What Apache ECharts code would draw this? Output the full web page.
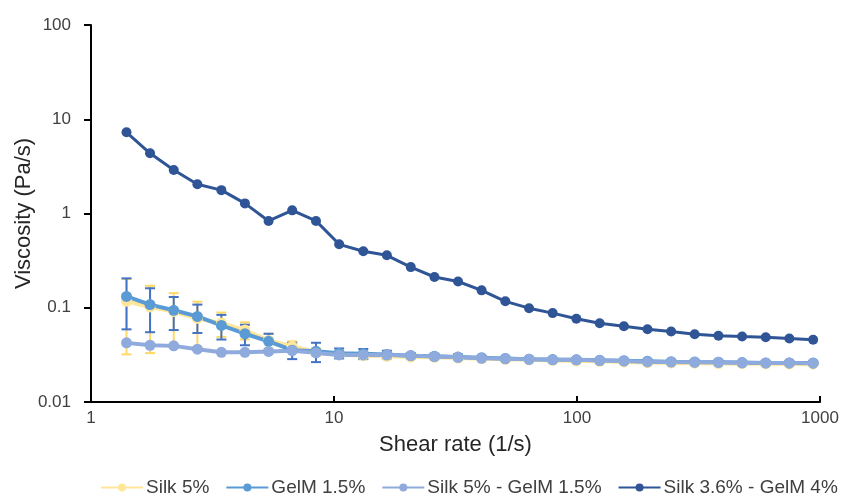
<!DOCTYPE html>
<html>
<head>
<meta charset="utf-8">
<script src="https://cdn.jsdelivr.net/npm/echarts@6/dist/echarts.min.js"></script>
<style>html,body{margin:0;padding:0;background:#fff}#c{width:849px;height:496px}</style>
</head>
<body>
<div id="c"></div>
<script>
// Shear rate (1/s)
var shearRate = [1.40, 1.75, 2.19, 2.74, 3.44, 4.30, 5.38, 6.73, 8.43, 10.5, 13.2, 16.5, 20.7, 25.9, 32.4, 40.5, 50.7, 63.5, 79.4, 99.4, 124, 156, 195, 244, 305, 382, 478, 598, 748, 937];
// Viscosity (Pa/s)
var silk5 = [0.117, 0.102, 0.091, 0.077, 0.069, 0.058, 0.045, 0.039, 0.034, 0.032, 0.031, 0.0305, 0.030, 0.0298, 0.0293, 0.0288, 0.0284, 0.028, 0.0276, 0.0273, 0.027, 0.0266, 0.0262, 0.026, 0.0258, 0.0256, 0.0255, 0.0254, 0.0253, 0.0252];
var silk5Err = [0.085, 0.069, 0.052, 0.039, 0.020, 0.012, 0.008, 0.005, 0.003, 0.002, 0.002, 0.002, 0.001, 0.001, 0.001, 0.001, 0.001, 0.001, 0.001, 0.001, 0.001, 0.001, 0.001, 0.001, 0.001, 0.001, 0.001, 0.001, 0.001, 0.001];
var gelm15 = [0.132, 0.108, 0.094, 0.081, 0.065, 0.053, 0.044, 0.0355, 0.0345, 0.033, 0.0325, 0.032, 0.031, 0.0305, 0.030, 0.0295, 0.029, 0.0285, 0.0282, 0.028, 0.0277, 0.0274, 0.0271, 0.0268, 0.0266, 0.0264, 0.0262, 0.026, 0.026, 0.026];
var gelm15Err = [0.073, 0.053, 0.036, 0.027, 0.019, 0.013, 0.009, 0.007, 0.008, 0.004, 0.004, 0.003, 0.002, 0.002, 0.002, 0.001, 0.001, 0.001, 0.001, 0.001, 0.001, 0.001, 0.001, 0.001, 0.001, 0.001, 0.001, 0.001, 0.001, 0.001];
var silk5Gelm15 = [0.0424, 0.040, 0.0394, 0.0363, 0.0337, 0.0337, 0.0344, 0.035, 0.0332, 0.0316, 0.0316, 0.0315, 0.0311, 0.0303, 0.0298, 0.0291, 0.0287, 0.0284, 0.028, 0.028, 0.0275, 0.0273, 0.0266, 0.0265, 0.0264, 0.0264, 0.026, 0.026, 0.026, 0.0258];
var silk36Gelm4 = [7.27, 4.35, 2.89, 2.04, 1.77, 1.28, 0.834, 1.08, 0.834, 0.471, 0.397, 0.36, 0.270, 0.212, 0.19, 0.153, 0.117, 0.099, 0.0877, 0.0764, 0.0686, 0.0637, 0.0592, 0.056, 0.0524, 0.0504, 0.0495, 0.0487, 0.0471, 0.0457];
var seriesNames = ['Silk 5%', 'GelM 1.5%', 'Silk 5% - GelM 1.5%', 'Silk 3.6% - GelM 4%'];

function pairs(vals) { return vals.map(function (v, i) { return [shearRate[i], v]; }); }
function errData(vals, errs) { return vals.map(function (v, i) { return [shearRate[i], v - errs[i], v + errs[i]]; }); }

function errRender(color) {
  return function (params, api) {
    var x = api.value(0);
    var lo = api.coord([x, api.value(1)]);
    var hi = api.coord([x, api.value(2)]);
    var w = 5;
    var st = { stroke: color, lineWidth: 2 };
    return {
      type: 'group',
      children: [
        { type: 'line', shape: { x1: lo[0], y1: lo[1], x2: hi[0], y2: hi[1] }, style: st },
        { type: 'line', shape: { x1: lo[0] - w, y1: lo[1], x2: lo[0] + w, y2: lo[1] }, style: st },
        { type: 'line', shape: { x1: hi[0] - w, y1: hi[1], x2: hi[0] + w, y2: hi[1] }, style: st }
      ]
    };
  };
}

var colors = ['#FFE699', '#5B9BD5', '#8FAADC', '#2F5597'];
var FONT = 'Liberation Sans';

function lineSeries(name, data, color, width, size) {
  return {
    name: name, type: 'line', data: pairs(data), symbol: 'circle', symbolSize: size,
    lineStyle: { color: color, width: width }, itemStyle: { color: color },
    emphasis: { disabled: true }, animation: false
  };
}

var chart = echarts.init(document.getElementById('c'), null, { renderer: 'canvas' });
chart.setOption({
  animation: false,
  grid: { left: 91, right: 29, top: 25, bottom: 94, containLabel: false, outerBoundsMode: 'none' },
  legend: {
    data: seriesNames,
    top: 478, left: 100, padding: 0,
    itemWidth: 42, itemHeight: 10, itemGap: 16,
    textStyle: { fontFamily: FONT, fontSize: 19, color: '#404040', padding: [0, 0, 0, -2] }
  },
  xAxis: {
    type: 'log', logBase: 10, min: 1, max: 1000,
    name: 'Shear rate (1/s)', nameLocation: 'middle', nameGap: 32, nameMoveOverlap: false,
    nameTextStyle: { fontFamily: FONT, fontSize: 22, color: '#262626' },
    axisLine: { lineStyle: { color: '#000', width: 2 } },
    axisTick: { inside: true, length: 6, lineStyle: { color: '#000', width: 2 } },
    minorTick: { show: false },
    splitLine: { show: false },
    axisLabel: { fontFamily: FONT, fontSize: 17, color: '#404040', margin: 8,
      formatter: function (v) { return String(+v.toPrecision(3)); } }
  },
  yAxis: {
    type: 'log', logBase: 10, min: 0.01, max: 100,
    name: 'Viscosity (Pa/s)', nameLocation: 'middle', nameGap: 56, nameMoveOverlap: false,
    nameTextStyle: { fontFamily: FONT, fontSize: 22, color: '#262626' },
    axisLine: { show: true, lineStyle: { color: '#000', width: 2 } },
    axisTick: { show: true, length: 7, lineStyle: { color: '#000', width: 2 } },
    splitLine: { show: false },
    axisLabel: { fontFamily: FONT, fontSize: 17, color: '#404040', margin: 20,
      formatter: function (v) { return String(+v.toPrecision(3)); } }
  },
  series: [
    { type: 'custom', name: 'silkErr', data: errData(silk5, silk5Err), renderItem: errRender('#FFD966'), silent: true, z: 1 },
    lineSeries(seriesNames[0], silk5, colors[0], 4, 11),
    { type: 'custom', name: 'gelmErr', data: errData(gelm15, gelm15Err), renderItem: errRender('#4472C4'), silent: true, z: 2 },
    lineSeries(seriesNames[1], gelm15, colors[1], 4, 11),
    lineSeries(seriesNames[2], silk5Gelm15, colors[2], 4, 11),
    lineSeries(seriesNames[3], silk36Gelm4, colors[3], 3, 10)
  ]
});
</script>
</body>
</html>
